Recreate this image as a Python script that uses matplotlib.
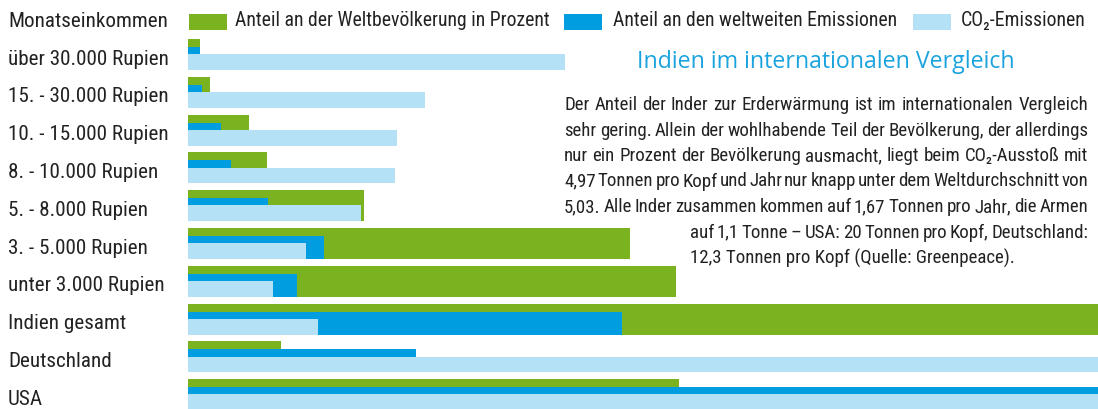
import matplotlib
matplotlib.use('Agg')
import matplotlib.pyplot as plt
import matplotlib.transforms as mtransforms
from matplotlib import font_manager
from matplotlib.patches import Rectangle

# Daten: Balkenlaengen (Einheit: t CO2 pro Kopf der hellblauen Reihe)
kategorien = ['über 30.000 Rupien', '15. - 30.000 Rupien', '10. - 15.000 Rupien',
              '8. - 10.000 Rupien', '5. - 8.000 Rupien', '3. - 5.000 Rupien',
              'unter 3.000 Rupien', 'Indien gesamt', 'Deutschland', 'USA']
anteil_bevoelkerung = [0.16, 0.29, 0.80, 1.03, 2.30, 5.78, 6.38, 13.0, 1.22, 6.42]
anteil_emissionen = [0.16, 0.18, 0.43, 0.56, 1.05, 1.78, 1.42, 5.67, 2.98, 13.0]
co2_pro_kopf = [4.93, 3.10, 2.73, 2.71, 2.26, 1.54, 1.11, 1.70, 12.3, 20.0]

legende = ['Anteil an der Weltbevölkerung in Prozent',
           'Anteil an den weltweiten Emissionen',
           'CO\u2082-Emissionen']

titel = 'Indien im internationalen Vergleich'
absatz = [
    'Der Anteil der Inder zur Erderwärmung ist im internationalen Vergleich',
    'sehr gering. Allein der wohlhabende Teil der Bevölkerung, der allerdings',
    'nur ein Prozent der Bevölkerung ausmacht, liegt beim CO\u2082-Ausstoß mit',
    '4,97 Tonnen pro Kopf und Jahr nur knapp unter dem Weltdurchschnitt von',
    '5,03. Alle Inder zusammen kommen auf 1,67 Tonnen pro Jahr, die Armen',
    'auf 1,1 Tonne – USA: 20 Tonnen pro Kopf, Deutschland:',
    '12,3 Tonnen pro Kopf (Quelle: Greenpeace).',
]

GRUEN = '#7ab31f'
BLAU = '#009ee0'
HELLBLAU = '#b4e1f5'
TEXT = '#222222'

# Schrift: schmale Grotesk, falls vorhanden
namen = {f.name for f in font_manager.fontManager.ttflist}
schmal = next((n for n in ['Liberation Sans Narrow', 'Roboto Condensed', 'Open Sans Condensed']
               if n in namen), None)
if schmal:
    fam = [schmal, 'DejaVu Sans']
    gr_label, gr_leg, gr_text = 15.2, 14.2, 13.6
else:
    fam = ['Liberation Sans', 'DejaVu Sans']
    gr_label, gr_leg, gr_text = 12.5, 11.7, 11.2
titel_fam = ['Open Sans', 'DejaVu Sans'] if 'Open Sans' in namen else ['DejaVu Sans']

W, H = 1098, 409
fig = plt.figure(figsize=(W / 100, H / 100), dpi=100)
fig.patch.set_facecolor('white')

ax = fig.add_axes([188 / W, 0, 910 / W, 1])
ax.set_xlim(0, 910 / 76.5)
ax.set_ylim(9.788, -1.032)
ax.axis('off')

pos = list(range(len(kategorien)))
ax.barh([p for p in pos], anteil_bevoelkerung, height=0.82, align='edge', color=GRUEN, lw=0)
ax.barh([p + 0.21 for p in pos], anteil_emissionen, height=0.61, align='edge', color=BLAU, lw=0)
ax.barh([p + 0.40 for p in pos], co2_pro_kopf, height=0.42, align='edge', color=HELLBLAU, lw=0)

# Kategorien links
trans = mtransforms.blended_transform_factory(fig.transFigure, ax.transData)
for p, k in zip([-1] + pos, ['Monatseinkommen'] + kategorien):
    ax.text(8 / W, p + 0.53, k, transform=trans, ha='left', va='center',
            fontsize=gr_label, family=fam, color=TEXT, clip_on=False)

# Legende oben
for x0, x_txt, farbe, txt in zip([189, 564, 913], [235, 613, 961],
                                 [GRUEN, BLAU, HELLBLAU], legende):
    fig.add_artist(Rectangle((x0 / W, 1 - 30 / H), 38 / W, 16 / H,
                             transform=fig.transFigure, color=farbe, lw=0))
    fig.text(x_txt / W, 1 - 21 / H, txt, ha='left', va='center',
             fontsize=gr_leg, family=fam, color=TEXT)

fig.text(826 / W, 1 - 62 / H, titel, ha='center', va='center', fontsize=16.7,
         family=titel_fam, color='#1ba3df')

# Blocksatz, Wort fuer Wort gesetzt
r = fig.canvas.get_renderer()
links = [564, 564, 564, 564, 564, 690, 690]
for n, zeile in enumerate(absatz):
    y = 1 - (105 + 25.5 * n) / H
    if n == len(absatz) - 1:
        fig.text(links[n] / W, y, zeile, ha='left', va='center',
                 fontsize=gr_text, family=fam, color=TEXT)
        continue
    woerter = zeile.split(' ')
    objs = [fig.text(0, y, w, ha='left', va='center', fontsize=gr_text,
                     family=fam, color=TEXT) for w in woerter]
    breiten = [o.get_window_extent(r).width for o in objs]
    luecke = (1088 - links[n] - sum(breiten)) / (len(woerter) - 1)
    x = links[n]
    for o, b in zip(objs, breiten):
        o.set_x(x / W)
        x += b + luecke

fig.savefig('out.png', dpi=100, facecolor='white')
